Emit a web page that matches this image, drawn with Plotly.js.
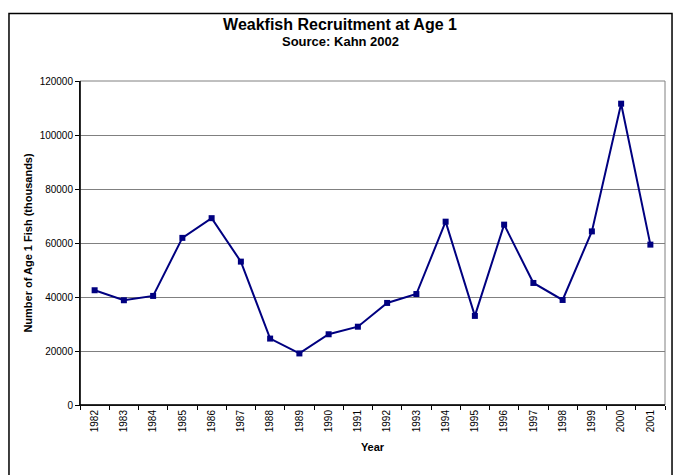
<!DOCTYPE html>
<html>
<head>
<meta charset="utf-8">
<script src="https://cdn.plot.ly/plotly-3.0.1.min.js"></script>
<style>html,body{margin:0;padding:0;background:#fff;}#chart{width:678px;height:475px;}</style>
</head>
<body>
<div id="chart"></div>
<script>
const years = ['1982','1983','1984','1985','1986','1987','1988','1989','1990','1991','1992','1993','1994','1995','1996','1997','1998','1999','2000','2001'];
const recruits = [42500,38800,40400,61900,69200,53100,24600,19100,26200,29000,37800,41100,67900,33000,66800,45200,38900,64300,111600,59400];
const yTicks = [0,20000,40000,60000,80000,100000,120000];

const FONT = 'Liberation Sans, Arial, sans-serif';

const trace = {
  x: years, y: recruits, type: 'scatter', mode: 'lines+markers',
  line: {color: '#000080', width: 2},
  marker: {color: '#000080', symbol: 'square', size: 6},
  cliponaxis: false, showlegend: false
};

const layout = {
  width: 678, height: 475,
  margin: {l: 80, r: 13, t: 81, b: 70},
  paper_bgcolor: '#fff', plot_bgcolor: '#fff',
  font: {family: FONT, color: '#000', size: 10},
  title: {text: '<b>Weakfish Recruitment at Age 1</b>',
          font: {family: FONT, size: 16, color: '#000'}, x: 340 / 678, xanchor: 'center',
          xref: 'container', yref: 'container', y: 1 - 24/475, yanchor: 'middle'},
  annotations: [
    {text: '<b>Source: Kahn 2002</b>', xref: 'paper', yref: 'paper', x: (340 - 80) / 585, y: (405 - 42) / 324,
     xanchor: 'center', yanchor: 'middle', showarrow: false, font: {family: FONT, size: 13, color: '#000'}}
  ],
  xaxis: {
    type: 'category', range: [-0.5, years.length - 0.5], tickangle: -90, ticks: 'outside', ticklen: 4, tickcolor: '#000',
    tickson: 'boundaries', showgrid: false, showline: true, linecolor: '#000', linewidth: 1,
    mirror: false, tickfont: {size: 10},
    title: {text: '<b>Year</b>', font: {size: 11}, standoff: 12}
  },
  yaxis: {
    range: [0, 120000], tickvals: yTicks, ticktext: yTicks.map(String),
    ticks: 'outside', ticklen: 4, tickcolor: '#000',
    showgrid: true, gridcolor: '#808080', gridwidth: 1,
    showline: true, linecolor: '#000', linewidth: 1, zeroline: false,
    tickfont: {size: 10},
    title: {text: '<b>Number of Age 1 Fish (thousands)</b>', font: {size: 11}, standoff: 4}
  },
  shapes: [
    {type: 'rect', xref: 'paper', yref: 'paper', x0: 0, x1: 1, y0: 0, y1: 1,
     line: {color: '#808080', width: 1}},
    {type: 'line', xref: 'paper', yref: 'paper', x0: 0, x1: 0, y0: 0, y1: 1, line: {color: '#000', width: 1.5}},
    {type: 'line', xref: 'paper', yref: 'paper', x0: 0, x1: 1, y0: 0, y1: 0, line: {color: '#000', width: 1.5}},
    {type: 'rect', xref: 'paper', yref: 'paper', x0: -0.1214, x1: 1.012, y0: -0.25, y1: 1.2083,
     line: {color: '#000', width: 1.5}}
  ]
};

Plotly.newPlot('chart', [trace], layout, {displayModeBar: false, staticPlot: true});
</script>
</body>
</html>
